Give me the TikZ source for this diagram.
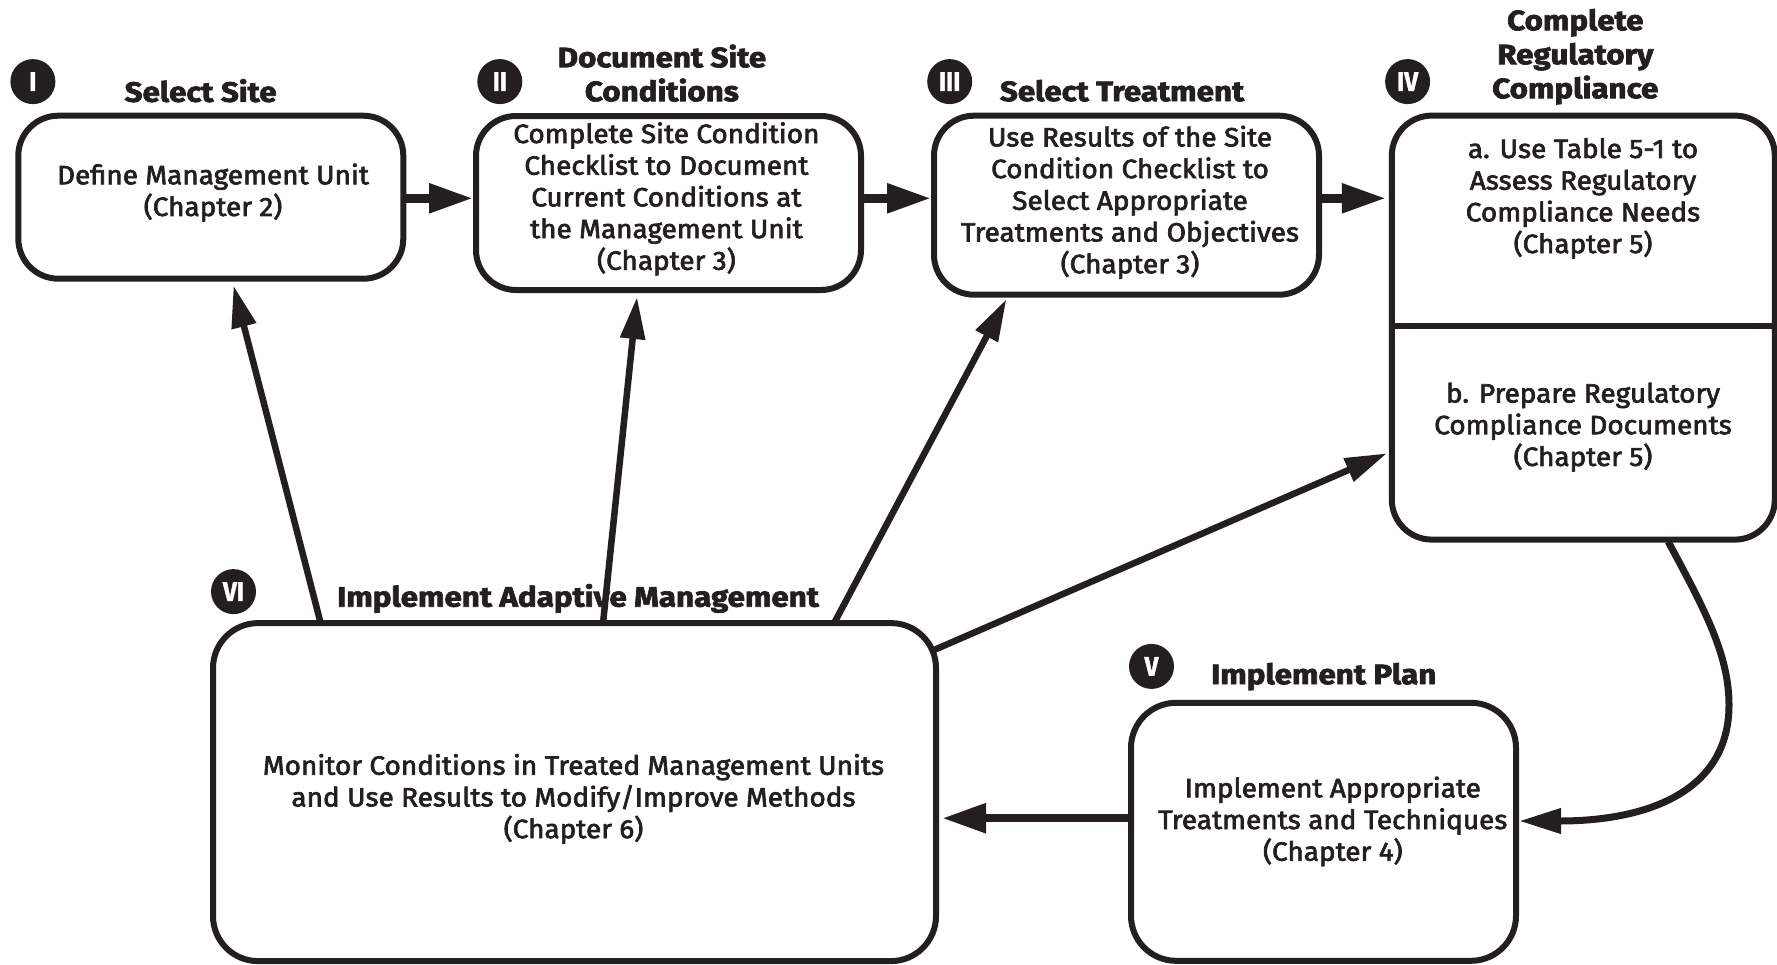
\documentclass[tikz,border=0pt]{standalone}
\usepackage{fontspec}
\setmainfont{Fira Sans}
\newfontfamily\bodyf{Fira Sans}[FakeBold=2.5, FakeStretch=1.055]
\newfontfamily\titlef{Fira Sans}[FakeStretch=1.12, BoldFeatures={FakeBold=2.5}]
\newfontfamily\badgef{Fira Sans}[FakeStretch=0.9, BoldFeatures={FakeBold=1.5}]
\usetikzlibrary{arrows.meta}
\definecolor{ink}{HTML}{231F20}
\tikzset{
  box/.style={draw=ink, line width=6pt, rounded corners=40pt, fill=white, inner sep=0pt},
  btext/.style={align=center, font=\bodyf\fontsize{26.5}{31.7}\selectfont, text=ink, inner sep=0pt},
  ttext/.style={align=center, font=\titlef\bfseries\fontsize{28}{34}\selectfont, text=ink, inner sep=0pt},
  badge/.style={circle, fill=ink, minimum size=45pt, inner sep=0pt, text=white, font=\badgef\bfseries\fontsize{27}{27}\selectfont},
  harr/.style={draw=ink, line width=8.5pt, -{Triangle[length=44pt,width=28pt]}},
  darr/.style={draw=ink, line width=6.5pt, -{Triangle[length=42pt,width=24pt]}},
}
\begin{document}
\begin{tikzpicture}[x=1pt,y=-1pt]
\useasboundingbox (0,0) rectangle (1777,964);
% boxes
\node[box, minimum width=385pt, minimum height=163pt] (B1) at (210.8,197.2) {};
\node[box, minimum width=385pt, minimum height=174pt] (B2) at (668.5,203) {};
\node[box, minimum width=385pt, minimum height=179pt] (B3) at (1126.5,205.2) {};
\node[box, minimum width=383pt, minimum height=424pt] (B4) at (1583.3,327.6) {};
\node[box, minimum width=385pt, minimum height=258pt, rounded corners=45pt] (B5) at (1323.5,831.8) {};
\node[box, minimum width=723pt, minimum height=338pt, rounded corners=45pt] (B6) at (574.5,792.1) {};
\draw[ink, line width=6pt] (B4.west |- 0,326.4) -- (B4.east |- 0,326.4);
% box texts
\node[btext] (T1) at (213,192.6) {Define Management Unit\\(Chapter 2)};
\node[btext] (T2) at (666.4,198.9) {Complete Site Condition\\Checklist to Document\\Current Conditions at\\the Management Unit\\(Chapter 3)};
\node[btext] (T3) at (1130,202.3) {Use Results of the Site\\Condition Checklist to\\Select Appropriate\\Treatments and Objectives\\(Chapter 3)};
\node[btext] (T4a) at (1583,198.4) {a. Use Table 5-1 to\\Assess Regulatory\\Compliance Needs\\(Chapter 5)};
\node[btext] (T4b) at (1583,427.1) {b. Prepare Regulatory\\Compliance Documents\\(Chapter 5)};
\node[btext] (T5) at (1332.8,821.5) {Implement Appropriate\\Treatments and Techniques\\(Chapter 4)};
\node[btext] (T6) at (573.5,798.9) {Monitor Conditions in Treated Management Units\\and Use Results to Modify/Improve Methods\\(Chapter 6)};
% titles
\node[ttext] (H1) at (200.6,90.7) {Select Site};
\node[ttext] (H2) at (661.9,73.1) {Document Site\\Conditions};
\node[ttext] (H3) at (1122,90.7) {Select Treatment};
\node[ttext] (H4) at (1575.3,56.7) {Complete\\Regulatory\\Compliance};
\node[ttext] (H5) at (1323.7,676.6) {Implement Plan};
\node[ttext] (H6) at (578,598.4) {Implement Adaptive Management};
% badges
\node[badge] (C1) at (32.9,81.6) {I};
\node[badge] (C2) at (499.8,81.6) {II};
\node[badge] (C3) at (949.7,81.6) {III};
\node[badge] (C4) at (1407.6,81.6) {IV};
\node[badge] (C5) at (1151.5,666.4) {V};
\node[badge] (C6) at (233.5,591.6) {VI};
% connector end points
\coordinate (s1) at (320.7,623.3);
\coordinate (e1) at (233.5,285.6);
\coordinate (s2) at (603,623.3);
\coordinate (e2) at (637,297);
\coordinate (s3) at (834,623.3);
\coordinate (e3) at (1006.4,299.2);
\coordinate (s4) at (934,650);
\coordinate (e4) at (1387,453.3);
\coordinate (s5) at (1668.2,541.7);
\coordinate (m5) at (1729,705);
\coordinate (e5) at (1519,821);
% arrows
\draw[harr] (B1.east |- 0,198.3) -- (B2.west |- 0,198.3);
\draw[harr] (B2.east |- 0,198.3) -- (B3.west |- 0,198.3);
\draw[harr] (B3.east |- 0,198.3) -- ([xshift=-3pt]B4.west |- 0,198.3);
\draw[darr] (s1) -- (e1);
\draw[darr] (s2) -- (e2);
\draw[darr] (s3) -- (e3);
\draw[darr] (s4) -- (e4);
\draw[darr, line width=7pt] (s5) .. controls (1705,610) and (1729,655) .. (m5) .. controls (1729,790) and (1650,821) .. (e5);
\draw[harr] (B5.west |- 0,818.2) -- ([xshift=3pt]B6.east |- 0,818.2);
\end{tikzpicture}
\end{document}
